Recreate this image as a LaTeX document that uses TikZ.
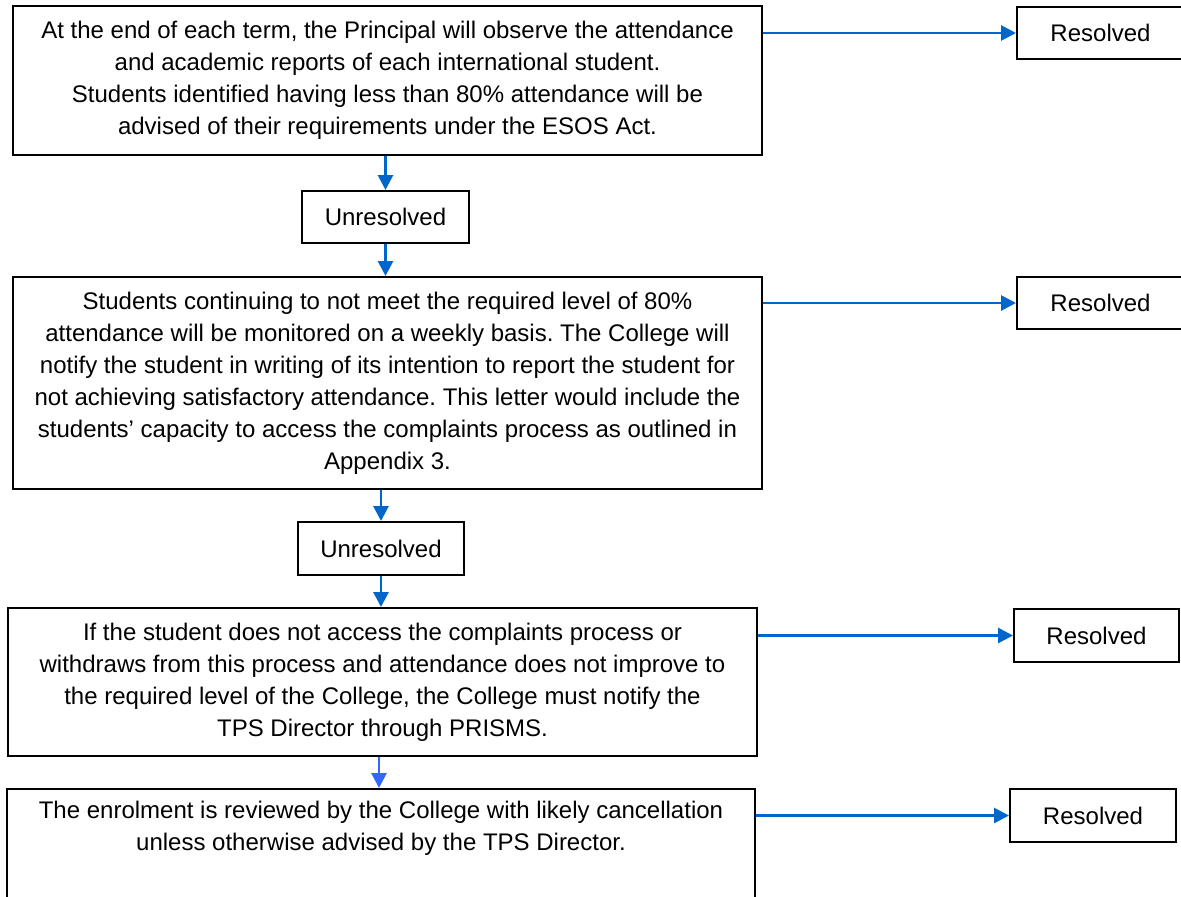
\documentclass[tikz,border=0pt]{standalone}
\usepackage{fontspec}
\setmainfont{Liberation Sans}
\frenchspacing
\usetikzlibrary{arrows.meta,positioning,calc}
\definecolor{flowblue}{RGB}{0,102,204}
\definecolor{lastblue}{RGB}{51,102,255}
\tikzset{
  every picture/.style={font=\fontsize{24}{32}\selectfont},
  panel/.style={draw,line width=2pt,align=center,inner sep=0pt,minimum width=749pt},
  tag/.style={draw,line width=2pt,inner sep=0pt,minimum width=167pt,minimum height=52pt},
  link/.style={flowblue,line width=2.8pt,-{Triangle[length=15pt,width=15pt]}},
}

\begin{document}
\begin{tikzpicture}[x=1pt,y=-1pt]
  \useasboundingbox (0,0) rectangle (1181,897);
  % main column
  \node[panel,minimum height=149pt] (observe) at (387.5,80.5)
    {At the end of each term, the Principal will observe the attendance\\
     and academic reports of each international student.\\
     Students identified having less than 80\% attendance will be\\
     advised of their requirements under the ESOS Act.};
  \node[tag] (unres1) at (385.5,217) {Unresolved};
  \node[panel,minimum height=212pt] (monitor) at (387.5,383)
    {Students continuing to not meet the required level of 80\%\\
     attendance will be monitored on a weekly basis. The College will\\
     notify the student in writing of its intention to report the student for\\
     not achieving satisfactory attendance. This letter would include the\\
     students’ capacity to access the complaints process as outlined in\\
     Appendix 3.};
  \node[tag,minimum width=166pt,minimum height=53pt] (unres2) at (381,548.5) {Unresolved};
  \node[panel,minimum height=148pt] (notify) at (382.5,682)
    {If the student does not access the complaints process or\\
     withdraws from this process and attendance does not improve to\\
     the required level of the College, the College must notify the\\
     TPS Director through PRISMS.};
  \node[panel,minimum width=748pt,minimum height=148pt] (review) at (381,863)
    {The enrolment is reviewed by the College with likely cancellation\\
     unless otherwise advised by the TPS Director.\\
     \strut\\
     \strut};
  % outcomes on the right
  \node[tag] (res1) at (1100.5,33) {Resolved};
  \node[tag] (res2) at (1100.5,303) {Resolved};
  \node[tag,minimum width=165pt,minimum height=53pt] (res3) at (1096.5,635.5) {Resolved};
  \node[tag,minimum width=166pt,minimum height=53pt] (res4) at (1093,815.5) {Resolved};
  % connectors
  \draw[link] (observe.east |- res1.west) -- (res1.west);
  \draw[link] (monitor.east |- res2.west) -- (res2.west);
  \draw[link] (notify.east |- res3.west) -- (res3.west);
  \draw[link] (review.east |- res4.west) -- (res4.west);
  \draw[link] (observe.south -| unres1.north) -- (unres1.north);
  \draw[link] (unres1.south) -- (unres1.south |- monitor.north);
  \draw[link] (monitor.south -| unres2.north) -- (unres2.north);
  \draw[link] (unres2.south) -- (unres2.south |- notify.north);
  \draw[link,lastblue] ($(notify.south)+(-3.5,0)$) -- ($(review.north)+(-2,0)$);
\end{tikzpicture}
\end{document}
